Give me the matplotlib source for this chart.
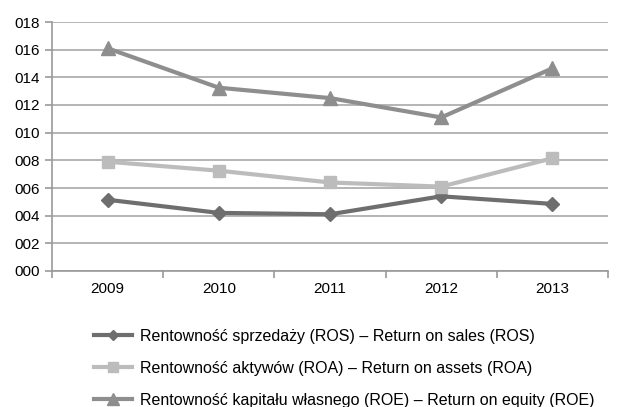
import numpy as np
import matplotlib.pyplot as plt
from matplotlib.ticker import FuncFormatter, FixedLocator

years = ['2009', '2010', '2011', '2012', '2013']
ros = [0.0515, 0.042, 0.041, 0.054, 0.0485]
roa = [0.079, 0.0725, 0.064, 0.061, 0.0815]
roe = [0.161, 0.1325, 0.125, 0.111, 0.1465]
labels = ['Rentowność sprzedaży (ROS) – Return on sales (ROS)',
          'Rentowność aktywów (ROA) – Return on assets (ROA)',
          'Rentowność kapitału własnego (ROE) – Return on equity (ROE)']

plt.rcParams['font.family'] = ['Liberation Sans', 'DejaVu Sans']

fig = plt.figure(figsize=(6.17, 4.07), dpi=100)
ax = fig.add_axes([52 / 617, 1 - 271 / 407, 556 / 617, 249 / 407])

x = np.arange(len(years))
ax.plot(x, ros, color='#6e6e6e', lw=3, marker='D', ms=7, zorder=3, label=labels[0])
ax.plot(x, roa, color='#bcbcbc', lw=3, marker='s', ms=9, zorder=3, label=labels[1])
ax.plot(x, roe, color='#8e8e8e', lw=3, marker='^', ms=10, zorder=3, label=labels[2])

ax.set_xlim(-0.5, len(years) - 0.5)
ax.set_ylim(0, 0.18)
ax.set_yticks(np.arange(0, 0.181, 0.02))
ax.yaxis.set_major_formatter(FuncFormatter(lambda v, p: f'{v:.2f}'.replace('.', '')))
ax.set_xticks(x)
ax.set_xticklabels(years)
ax.xaxis.set_minor_locator(FixedLocator(np.arange(-0.5, len(years), 1)))
ax.tick_params(axis='x', which='major', length=0, pad=8, labelsize=11)
ax.tick_params(axis='x', which='minor', length=5, color='#999999', width=1.2)
ax.tick_params(axis='y', length=5, color='#999999', width=1.2, labelsize=11, pad=4)

ax.grid(True, axis='y', color='#a8a8a8', lw=1.2, zorder=0)
for s in ['top', 'right']:
    ax.spines[s].set_visible(False)
for s in ['left', 'bottom']:
    ax.spines[s].set_color('#999999')
    ax.spines[s].set_linewidth(1.2)

leg = fig.legend(loc='upper left', bbox_to_anchor=(86 / 617, 1 - 321 / 407), frameon=False,
                 fontsize=11.5, handlelength=2.4, labelspacing=1.05, borderpad=0,
                 handletextpad=0.5, markerscale=0.8)

plt.savefig('out.png', dpi=100)
